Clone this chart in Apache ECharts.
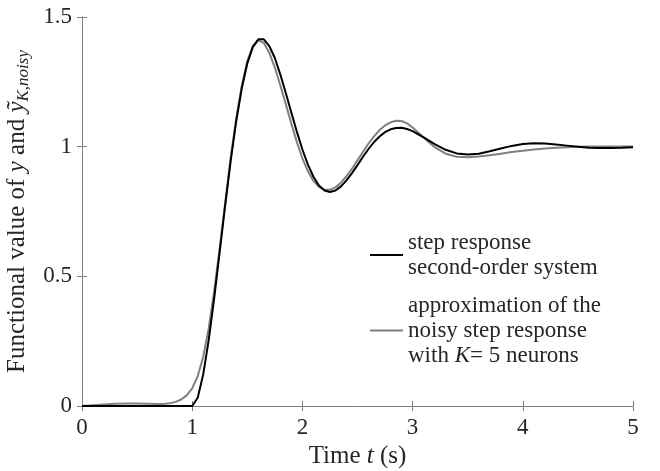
<!DOCTYPE html>
<html>
<head>
<meta charset="utf-8">
<script src="https://cdn.jsdelivr.net/npm/echarts@6/dist/echarts.min.js"></script>
<style>
html,body{margin:0;padding:0;background:#fff;}
#chart{width:660px;height:471px;}
</style>
</head>
<body>
<div id="chart"></div>
<script>
// ---- data ----
const tBlack = [0, 0.5, 1.0, 1.05, 1.10, 1.15, 1.20, 1.25, 1.30, 1.35, 1.40, 1.45, 1.50, 1.55, 1.60, 1.65, 1.70, 1.75, 1.80, 1.85, 1.90, 1.95, 2.00, 2.05, 2.10, 2.15, 2.20, 2.25, 2.30, 2.35, 2.40, 2.45, 2.50, 2.55, 2.60, 2.65, 2.70, 2.75, 2.80, 2.85, 2.90, 2.95, 3.00, 3.10, 3.20, 3.30, 3.40, 3.50, 3.60, 3.70, 3.80, 3.90, 4.00, 4.10, 4.20, 4.30, 4.40, 4.50, 4.60, 4.70, 4.80, 4.90, 5.00];
const yBlack = [0, 0, 0, 0.032, 0.122, 0.255, 0.417, 0.596, 0.776, 0.948, 1.100, 1.225, 1.321, 1.384, 1.414, 1.414, 1.388, 1.342, 1.278, 1.206, 1.131, 1.057, 0.989, 0.931, 0.884, 0.850, 0.831, 0.825, 0.831, 0.847, 0.870, 0.898, 0.929, 0.961, 0.991, 1.018, 1.039, 1.056, 1.067, 1.072, 1.073, 1.068, 1.060, 1.036, 1.010, 0.988, 0.974, 0.970, 0.973, 0.982, 0.993, 1.003, 1.010, 1.013, 1.012, 1.008, 1.004, 1.000, 0.996, 0.995, 0.995, 0.996, 0.998];

const tGray = [0, 0.1, 0.2, 0.3, 0.4, 0.5, 0.6, 0.7, 0.75, 0.80, 0.85, 0.90, 0.95, 1.00, 1.05, 1.10, 1.15, 1.20, 1.25, 1.30, 1.35, 1.40, 1.45, 1.50, 1.55, 1.60, 1.65, 1.70, 1.75, 1.80, 1.85, 1.90, 1.95, 2.00, 2.05, 2.10, 2.15, 2.20, 2.25, 2.30, 2.35, 2.40, 2.45, 2.50, 2.55, 2.60, 2.65, 2.70, 2.75, 2.80, 2.85, 2.90, 2.95, 3.00, 3.10, 3.20, 3.30, 3.40, 3.50, 3.60, 3.70, 3.80, 3.90, 4.00, 4.10, 4.20, 4.30, 4.40, 4.50, 4.60, 4.70, 4.80, 4.90, 5.00];
const yGray = [0, 0.003, 0.006, 0.009, 0.010, 0.010, 0.009, 0.008, 0.009, 0.011, 0.016, 0.025, 0.041, 0.068, 0.115, 0.190, 0.300, 0.445, 0.610, 0.785, 0.960, 1.110, 1.235, 1.330, 1.388, 1.411, 1.400, 1.362, 1.305, 1.236, 1.163, 1.088, 1.017, 0.955, 0.905, 0.868, 0.845, 0.834, 0.834, 0.843, 0.861, 0.886, 0.915, 0.947, 0.980, 1.012, 1.040, 1.064, 1.082, 1.094, 1.100, 1.099, 1.090, 1.074, 1.035, 0.998, 0.973, 0.961, 0.959, 0.962, 0.967, 0.973, 0.979, 0.984, 0.989, 0.993, 0.996, 0.998, 1.000, 1.001, 1.001, 1.001, 1.001, 1.001];

const xTicks = ['0', '1', '2', '3', '4', '5'];
const yTicks = ['0', '0.5', '1', '1.5'];

const nameBlack = 'step response\nsecond-order system';
const nameGray = 'approximation of the\nnoisy step response\nwith K= 5 neurons';

// ---- chart ----
const FONT = '"Liberation Serif", "DejaVu Serif", serif';
const TXT = '#262626';
const AX = '#808080';
const FS = 23;
const FT = 25;

const chart = echarts.init(document.getElementById('chart'), null, {renderer: 'canvas'});

const baseAxisLine = {show: true, lineStyle: {color: AX, width: 1}};
const tickStyle = {show: true, inside: true, length: 5, lineStyle: {color: AX, width: 1}};

chart.setOption({
  animation: false,
  backgroundColor: '#fff',
  grid: {left: 82, right: 27, top: 17, bottom: 65, containLabel: false, outerBoundsMode: 'none'},
  xAxis: [{
    type: 'value', min: 0, max: 5, interval: 1, position: 'bottom',
    axisLine: baseAxisLine, axisTick: tickStyle, splitLine: {show: false},
    axisLabel: {color: TXT, fontFamily: FONT, fontSize: FS, margin: 10,
      formatter: v => xTicks[Math.round(v)]},
    name: 'Time {i|t} (s)', nameLocation: 'middle', nameGap: 37,
    nameTextStyle: {color: TXT, fontFamily: FONT, fontSize: FT,
      rich: {i: {fontStyle: 'italic', fontFamily: FONT, fontSize: FT, color: TXT}}}
  }, {
    type: 'value', min: 0, max: 5, interval: 1, position: 'top',
    axisLine: baseAxisLine, axisTick: tickStyle, splitLine: {show: false},
    axisLabel: {show: false}
  }],
  yAxis: [{
    type: 'value', min: 0, max: 1.5, interval: 0.5, position: 'left',
    axisLine: baseAxisLine, axisTick: tickStyle, splitLine: {show: false},
    axisLabel: {color: TXT, fontFamily: FONT, fontSize: FS, margin: 10,
      formatter: v => yTicks[Math.round(v * 2)]},
    name: 'Functional value of {i|y} and {i|\u1EF9}{s|K,noisy}',
    nameLocation: 'middle', nameRotate: 90, nameGap: 44,
    nameTextStyle: {color: TXT, fontFamily: FONT, fontSize: FT, lineHeight: 30, verticalAlign: 'middle',
      rich: {
        i: {fontStyle: 'italic', fontFamily: FONT, fontSize: FT, color: TXT, lineHeight: 30, verticalAlign: 'middle'},
        s: {fontStyle: 'italic', fontFamily: FONT, fontSize: 17, color: TXT, lineHeight: 17, verticalAlign: 'bottom'}
      }}
  }, {
    type: 'value', min: 0, max: 1.5, interval: 0.5, position: 'right',
    axisLine: baseAxisLine, axisTick: tickStyle, splitLine: {show: false},
    axisLabel: {show: false}
  }],
  legend: {
    orient: 'vertical', left: 370, top: 230, itemGap: 13, padding: 0,
    itemWidth: 33, itemHeight: 2, icon: 'rect',
    data: [nameBlack, nameGray],
    formatter: n => n.replace('with K=', 'with {i|K}='),
    textStyle: {color: TXT, fontFamily: FONT, fontSize: FS, lineHeight: 25,
      rich: {i: {fontStyle: 'italic', fontFamily: FONT, fontSize: FS, color: TXT, lineHeight: 25}}}
  },
  series: [{
    name: nameBlack, type: 'line', xAxisIndex: 0, yAxisIndex: 0,
    data: tBlack.map((t, i) => [t, yBlack[i]]),
    showSymbol: false, symbol: 'none', smooth: false,
    lineStyle: {color: '#000', width: 2}, itemStyle: {color: '#000'}, z: 3
  }, {
    name: nameGray, type: 'line', xAxisIndex: 0, yAxisIndex: 0,
    data: tGray.map((t, i) => [t, yGray[i]]),
    showSymbol: false, symbol: 'none', smooth: false,
    lineStyle: {color: '#808080', width: 2}, itemStyle: {color: '#808080'}, z: 2
  }]
});
</script>
</body>
</html>
